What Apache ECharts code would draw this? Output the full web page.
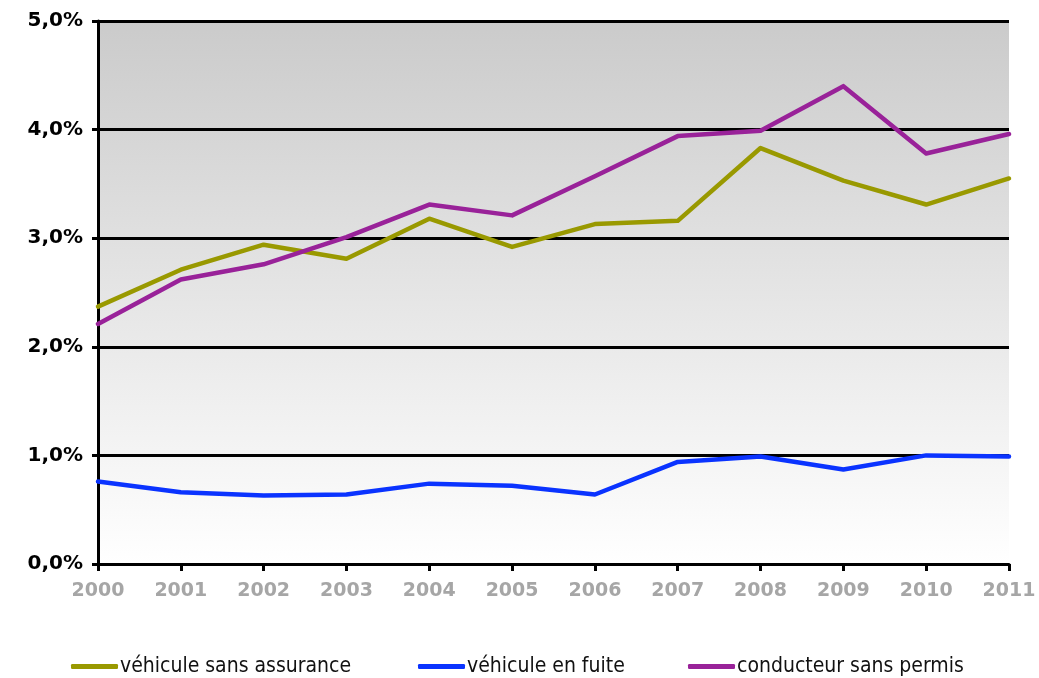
<!DOCTYPE html>
<html><head><meta charset="utf-8">
<script src="https://cdn.jsdelivr.net/npm/echarts@6/dist/echarts.min.js"></script>
<style>html,body{margin:0;padding:0;background:#fff}#c{width:1039px;height:678px}</style>
</head><body><div id="c"></div>
<script>
const years = ['2000','2001','2002','2003','2004','2005','2006','2007','2008','2009','2010','2011'];
const sansAssurance = [2.37,2.71,2.94,2.81,3.18,2.92,3.13,3.16,3.83,3.53,3.31,3.55];
const enFuite = [0.76,0.66,0.63,0.64,0.74,0.72,0.64,0.94,0.99,0.87,1.00,0.99];
const sansPermis = [2.21,2.62,2.76,3.01,3.31,3.21,3.57,3.94,3.99,4.40,3.78,3.96];
const seriesNames = ['véhicule sans assurance','véhicule en fuite','conducteur sans permis'];
const colors = ['#999900','#0a33ff','#992299'];

const chart = echarts.init(document.getElementById('c'));
const mk = (name, data, color) => ({
  name, type:'line', data, symbol:'none', smooth:false,
  lineStyle:{color, width:4.5, cap:'round', join:'round'}, itemStyle:{color}
});
const legendLefts = [71, 418, 688];
const mkLegend = (i) => ({
  top:656, left:legendLefts[i], padding:0, itemWidth:47, itemHeight:5, icon:'roundRect',
  textStyle:{fontFamily:'DejaVu Sans Condensed', fontSize:21, color:'#111', padding:[0,0,0,-3]},
  data:[seriesNames[i]]
});
chart.setOption({
  animation:false,
  color: colors,
  grid:{left:98, right:30, top:21, bottom:114, show:true, borderWidth:0,
    backgroundColor: new echarts.graphic.LinearGradient(0,0,0,1,[{offset:0,color:'#cbcbcb'},{offset:1,color:'#ffffff'}])},
  legend:[mkLegend(0), mkLegend(1), mkLegend(2)],
  xAxis:{
    type:'category', data:years, boundaryGap:false,
    axisLine:{lineStyle:{color:'#000', width:3}},
    axisTick:{show:true, length:7, lineStyle:{color:'#000', width:3}},
    axisLabel:{color:'#a6a6a6', fontFamily:'DejaVu Sans', fontWeight:'bold', fontSize:19, margin:18},
    splitLine:{show:false}
  },
  yAxis:{
    type:'value', min:0, max:5, interval:1,
    axisLine:{show:true, lineStyle:{color:'#000', width:3}},
    axisTick:{show:true, length:6, lineStyle:{color:'#000', width:3}},
    axisLabel:{color:'#000', fontFamily:'DejaVu Sans', fontWeight:'bold', fontSize:20, margin:15,
      formatter: v => v.toFixed(1).replace('.',',') + '%'},
    splitLine:{show:true, lineStyle:{color:'#000', width:3}}
  },
  series:[
    mk(seriesNames[0], sansAssurance, colors[0]),
    mk(seriesNames[1], enFuite, colors[1]),
    mk(seriesNames[2], sansPermis, colors[2])
  ]
});
</script></body></html>
